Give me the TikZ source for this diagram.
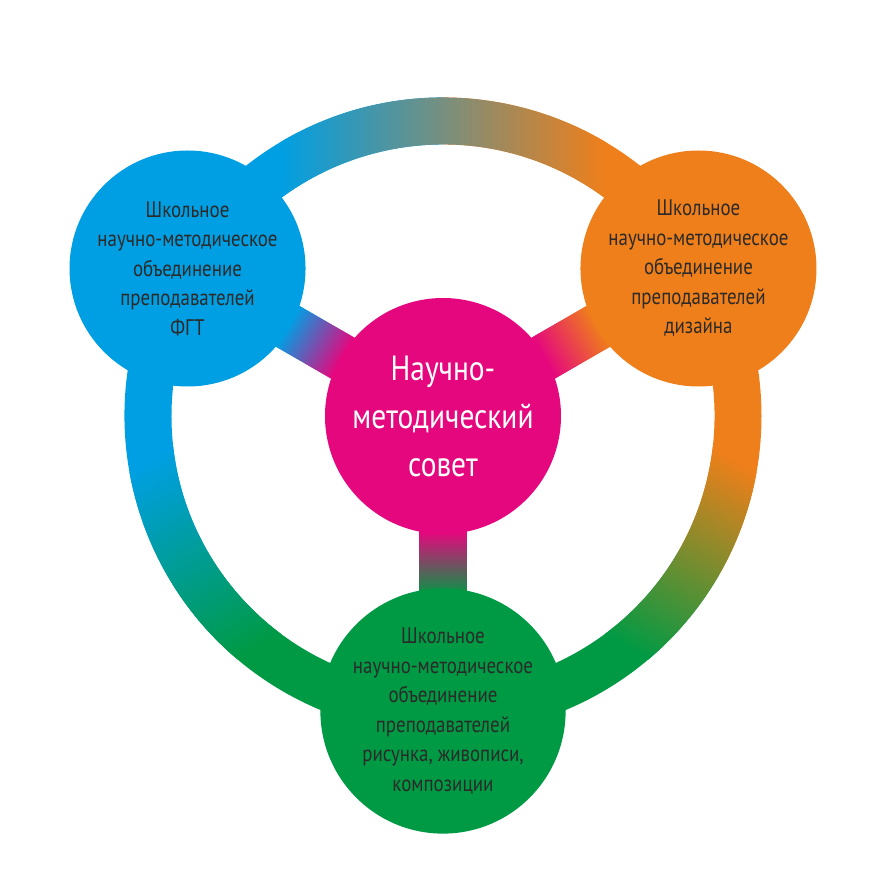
\documentclass[tikz,border=0pt]{standalone}
\usepackage{fontspec}
\setmainfont{PT Sans}[FakeStretch=0.84]
\usetikzlibrary{backgrounds}
\definecolor{cblue}{HTML}{009FE3}
\definecolor{corange}{HTML}{EF7F1A}
\definecolor{cgreen}{HTML}{009A44}
\definecolor{cmag}{HTML}{E5077E}
\definecolor{ctext}{HTML}{2B2A29}
% one third of the ring, drawn in the frame of the top arc and rotated
% #1 rotation, #2 left colour, #3 right colour, #4 half width of the blend
\newcommand{\ringpart}[4]{%
  \begin{scope}[transform canvas={rotate=#1}]
    \clip (30:318.5pt) arc[start angle=30,end angle=150,radius=318.5pt]
      -- (150:271.5pt) arc[start angle=150,end angle=30,radius=271.5pt] -- cycle;
    \fill[#2] (-400pt,100pt) rectangle (0pt,340pt);
    \fill[#3] (0pt,100pt) rectangle (400pt,340pt);
    \shade[left color=#2,right color=#3] (-#4pt,100pt) rectangle (#4pt,340pt);
  \end{scope}}
% one spoke, drawn pointing down and rotated
\newcommand{\spokebar}[2]{%
  \begin{scope}[transform canvas={rotate=#1}]
    \fill[cmag] (-23.5pt,-60pt) rectangle (23.5pt,-147pt);
    \fill[#2] (-23.5pt,-147pt) rectangle (23.5pt,-230pt);
    \shade[top color=cmag,bottom color=#2] (-23.5pt,-116pt) rectangle (23.5pt,-180pt);
  \end{scope}}
\begin{document}
\begin{tikzpicture}[x=1pt,y=1pt,
  circ/.style={circle,minimum size=236pt,inner sep=0pt,align=center,
    text=ctext,font=\fontsize{22.5}{29.5}\selectfont},
  bigcirc/.style={circ,fill=cmag,text=white,font=\fontsize{35}{48}\selectfont}]
\useasboundingbox (-443,-470) rectangle (443,416);
\node[bigcirc] (C) at (0,0) {Научно-\\методический\\совет};
\node[circ,fill=cblue] (B) at (150:295pt) {Школьное\\научно-методическое\\объединение\\преподавателей\\ФГТ};
\node[circ,fill=corange] (R) at (30:295pt) {Школьное\\научно-методическое\\объединение\\преподавателей\\дизайна};
\node[circ,fill=cgreen] (G) at (270:295pt) {Школьное\\научно-методическое\\объединение\\преподавателей\\рисунка, живописи,\\композиции};
\begin{pgfonlayer}{background}
  \ringpart{0}{cblue}{corange}{163}
  \ringpart{120}{cgreen}{cblue}{108}
  \ringpart{-120}{corange}{cgreen}{108}
  \spokebar{0}{cgreen}
  \spokebar{-120}{cblue}
  \spokebar{120}{corange}
\end{pgfonlayer}
\end{tikzpicture}
\end{document}
